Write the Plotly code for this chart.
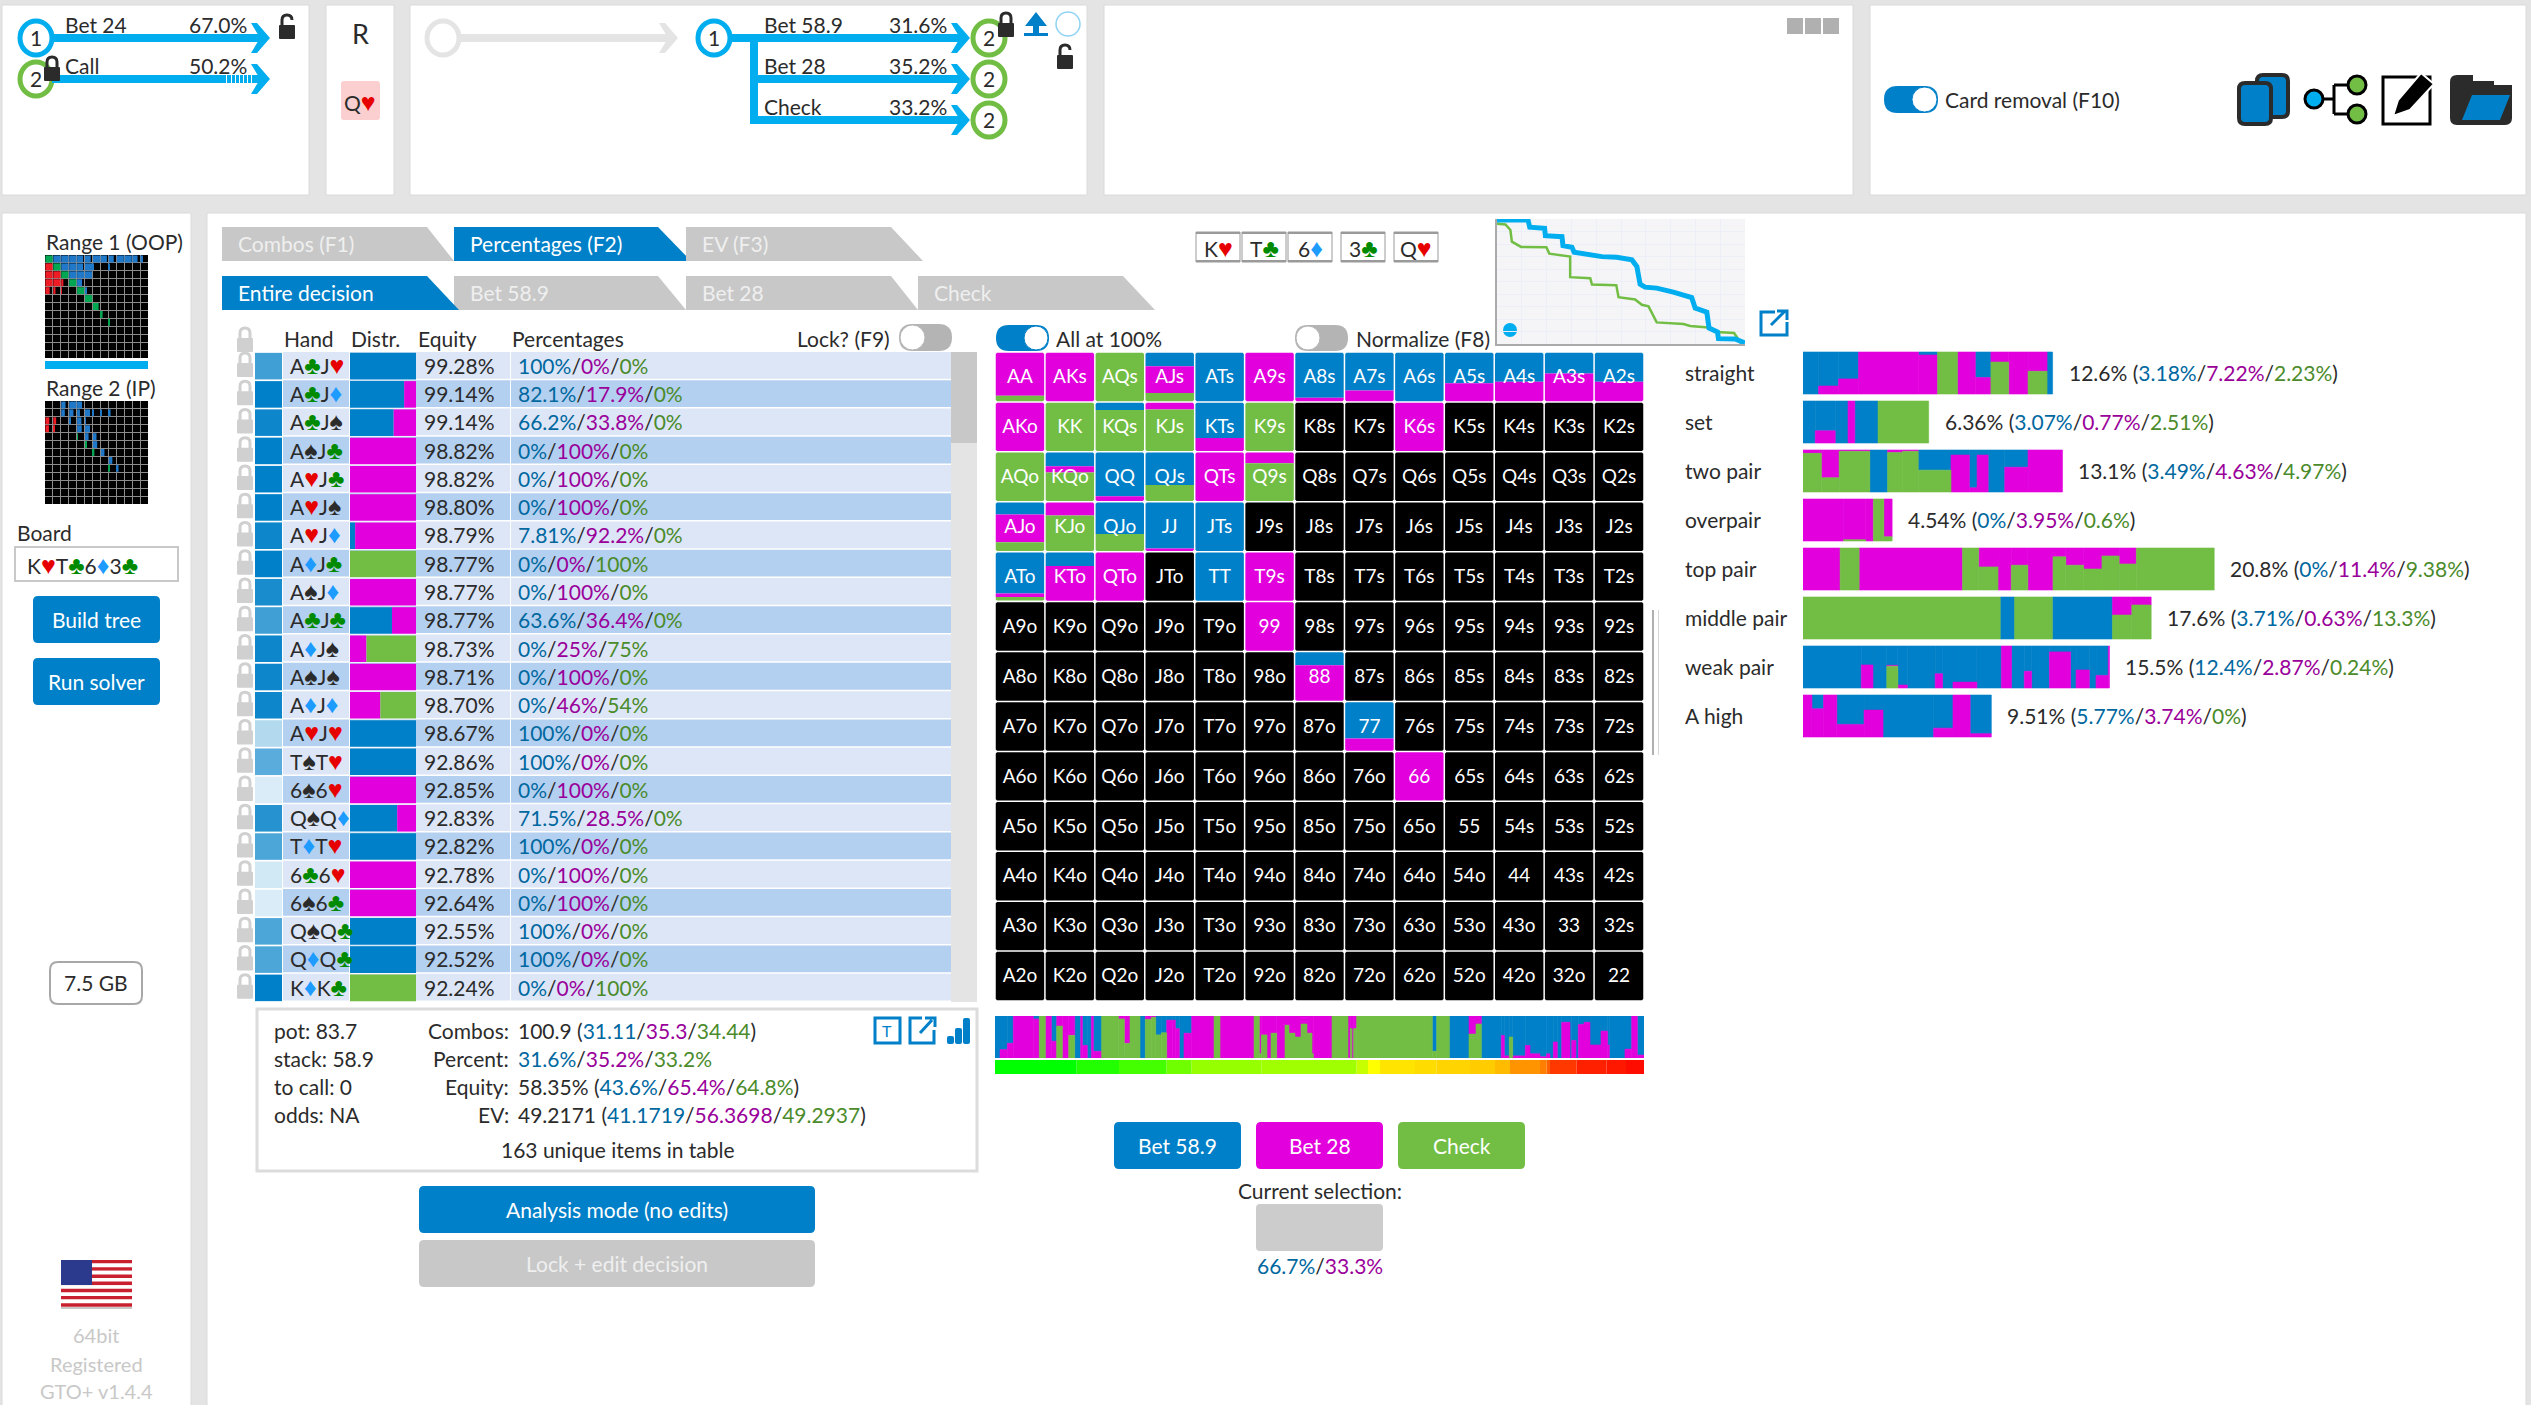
import plotly.graph_objects as go

W = 2531
H = 1405
FONT = "Lato"
FS = 21
DARK = "#2b2b2b"
BLUE = "#0080C8"
MAGENTA = "#E200DD"
GREEN = "#72BE44"
SKY = "#00AEEF"
TXT_B = "#00689F"
TXT_M = "#990099"
TXT_G = "#4B8B2B"
SUITS = {"♣": "#008A00", "♦": "#1E9BFF", "♥": "#E60000", "♠": "#2b2b2b"}

# hand table
hands = ["A♣J♥", "A♣J♦", "A♣J♠", "A♠J♣", "A♥J♣", "A♥J♠", "A♥J♦", "A♦J♣", "A♠J♦", "A♣J♣", "A♦J♠", "A♠J♠",
         "A♦J♦", "A♥J♥", "T♠T♥", "6♠6♥", "Q♠Q♦", "T♦T♥", "6♣6♥", "6♠6♣", "Q♠Q♣", "Q♦Q♣", "K♦K♣"]
equity = [99.28, 99.14, 99.14, 98.82, 98.82, 98.80, 98.79, 98.77, 98.77, 98.77, 98.73, 98.71,
          98.70, 98.67, 92.86, 92.85, 92.83, 92.82, 92.78, 92.64, 92.55, 92.52, 92.24]
pct_bet589 = [100, 82.1, 66.2, 0, 0, 0, 7.81, 0, 0, 63.6, 0, 0, 0, 100, 100, 0, 71.5, 100, 0, 0, 100, 100, 0]
pct_bet28 = [0, 17.9, 33.8, 100, 100, 100, 92.2, 0, 100, 36.4, 25, 100, 46, 0, 0, 100, 28.5, 0, 100, 100, 0, 0, 0]
pct_check = [0, 0, 0, 0, 0, 0, 0, 100, 0, 0, 75, 0, 54, 0, 0, 0, 0, 0, 0, 0, 0, 0, 100]
hand_weight = [.75, 1, .95, 1, 1, 1, .95, 1, .9, .75, .95, .95, .95, .3, .65, .15, .85, .7, .18, .15, .7, .7, 1]

# 13x13 strategy grid, rows from the top
RANKS = "AKQJT98765432"
EMPTY = [0] * 13
grid_blue = [[0, 0, 0, .28, 1, 0, .93, .78, 1, .63, .6, .43, .6],
             [0, 0, .15, 0, .73, 0, 0, 0, 0, 0, 0, 0, 0],
             [0, .28, .9, .67, 0, 0, 0, 0, 0, 0, 0, 0, 0],
             [.25, 0, .65, .95, 1, 0, 0, 0, 0, 0, 0, 0, 0],
             [.85, .28, 0, 0, 1, 0, 0, 0, 0, 0, 0, 0, 0],
             EMPTY,
             [0, 0, 0, 0, 0, 0, .27, 0, 0, 0, 0, 0, 0],
             [0, 0, 0, 0, 0, 0, 0, .75, 0, 0, 0, 0, 0],
             EMPTY, EMPTY, EMPTY, EMPTY, EMPTY]
grid_magenta = [[.89, 1, 0, .55, 0, 1, .07, .22, 0, .37, .4, .57, .4],
                [1, 0, 0, .14, .27, 0, 0, 0, 1, 0, 0, 0, 0],
                [0, .13, .1, 0, 1, .22, 0, 0, 0, 0, 0, 0, 0],
                [.57, .27, 0, .05, 0, 0, 0, 0, 0, 0, 0, 0, 0],
                [.07, .72, 1, 0, 0, 1, 0, 0, 0, 0, 0, 0, 0],
                [0, 0, 0, 0, 0, 1, 0, 0, 0, 0, 0, 0, 0],
                [0, 0, 0, 0, 0, 0, .73, 0, 0, 0, 0, 0, 0],
                [0, 0, 0, 0, 0, 0, 0, .25, 0, 0, 0, 0, 0],
                [0, 0, 0, 0, 0, 0, 0, 0, 1, 0, 0, 0, 0],
                EMPTY, EMPTY, EMPTY, EMPTY]
grid_green = [[.11, 0, 1, .17, 0, 0, 0, 0, 0, 0, 0, 0, 0],
              [0, 1, .85, .86, 0, 1, 0, 0, 0, 0, 0, 0, 0],
              [1, .59, 0, .33, 0, .78, 0, 0, 0, 0, 0, 0, 0],
              [.18, .73, .35, 0, 0, 0, 0, 0, 0, 0, 0, 0, 0],
              [.07, 0, 0, 0, 0, 0, 0, 0, 0, 0, 0, 0, 0],
              EMPTY, EMPTY, EMPTY, EMPTY, EMPTY, EMPTY, EMPTY, EMPTY]

# hand categories: (width in %, blue, magenta, green)
cat_names = ["straight", "set", "two pair", "overpair", "top pair", "middle pair", "weak pair", "A high"]
cat_total = ["12.6%", "6.36%", "13.1%", "4.54%", "20.8%", "17.6%", "15.5%", "9.51%"]
cat_blue = ["3.18%", "3.07%", "3.49%", "0%", "0%", "3.71%", "12.4%", "5.77%"]
cat_magenta = ["7.22%", "0.77%", "4.63%", "3.95%", "11.4%", "0.63%", "2.87%", "3.74%"]
cat_green = ["2.23%", "2.51%", "4.97%", "0.6%", "9.38%", "13.3%", "0.24%", "0%"]
straight = [(.79, 1, 0, 0), (1.01, .81, .19, 0), (1.01, .64, .36, 0), (3.04, 0, 1, 0), (.96, .07, .93, 0),
            (1.01, 0, 0, 1), (.90, 0, 1, 0), (.79, .61, .39, 0), (.90, 0, .24, .76), (.98, 0, 1, 0),
            (.96, 0, .46, .54), (.28, 1, 0, 0)]
set_ = [(.62, 1, 0, 0), (1.01, .71, .29, 0), (.65, 1, 0, 0), (.34, 0, 1, 0), (1.18, 1, 0, 0), (2.56, 0, 0, 1)]
two_pair = [(.93, 0, .08, .92), (.90, 0, .66, .34), (1.55, 0, .03, .97), (.90, 1, 0, 0), (.76, 0, .06, .94),
            (.79, 0, .03, .97), (1.66, .48, 0, .52), (.93, .12, .88, 0), (.39, .9, .1, 0), (.56, .12, .88, 0),
            (.84, 1, 0, 0), (1.18, .41, .59, 0), (1.74, 0, 1, 0)]
overpair = [(2.05, 0, 1, 0), (1.12, 0, .97, .03), (.39, 0, 1, 0), (.53, 0, 0, 1), (.42, 0, .9, .1)]
top_pair = [(1.88, 0, 1, 0), (.96, 0, 0, 1), (5.23, 0, 1, 0), (.82, 0, 0, 1), (.98, 0, .45, .55), (.67, 0, 1, 0),
            (.84, 0, .41, .59), (1.27, 0, 1, 0), (.65, 0, .21, .79), (.90, 0, .41, .59), (.93, 0, .5, .5),
            (.87, 0, .19, .81), (.87, 0, .38, .62), (3.94, 0, 0, 1)]
middle_pair = [(9.98, 0, 0, 1), (.73, 1, 0, 0), (1.91, 0, 0, 1), (3.04, 1, 0, 0), (.98, 0, .43, .57), (.98, 0, .19, .81)]
weak_pair = [(2.95, 1, 0, 0), (.59, .45, .55, 0), (.70, 1, 0, 0), (.56, .46, .02, .52), (.48, .93, .07, 0),
             (1.41, 1, 0, 0), (.37, .66, .34, 0), (.53, 1, 0, 0), (1.21, .86, .14, 0), (1.24, 1, 0, 0),
             (.51, 0, 1, 0), (.65, 1, 0, 0), (.37, .6, .4, 0), (.90, 1, 0, 0), (1.07, .14, .86, 0),
             (.28, 1, 0, 0), (.67, .57, .43, 0), (.34, 1, 0, 0), (.62, .7, .3, 0), (.06, 0, 1, 0)]
a_high = [(.45, 0, 1, 0), (.59, .33, .67, 0), (.67, 0, 1, 0), (1.38, .7, .3, 0), (.96, .36, .64, 0),
          (2.56, 1, 0, 0), (.98, .79, .21, 0), (.87, 0, 1, 0), (1.07, .92, .08, 0)]
cat_segments = [straight, set_, two_pair, overpair, top_pair, middle_pair, weak_pair, a_high]

# strategy strip under the grid: (width, blue, magenta, green)
strip_segments = [
    (15, 1, 0, 0), (22, .8, .2, 0), (18, .65, .35, 0), (60, 0, 1, 0), (18, .07, .93, 0), (18, 0, 0, 1),
    (18, 0, 1, 0), (16, .6, .4, 0), (17, 0, .24, .76), (19, 0, 1, 0), (18, 0, .46, .54), (18, 1, 0, 0),
    (5, 0, 1, 0), (15, .7, .3, 0), (12, 1, 0, 0), (6, 0, 1, 0), (25, .84, .16, 0), (50, 0, 0, 1),
    (18, 0, .07, .93), (17, 0, .65, .35), (30, 0, 0, 1), (16, 1, 0, 0), (18, 0, .08, .92), (13, 0, .03, .97),
    (17, .45, 0, .55), (16, .4, 0, .6), (18, .1, .9, 0), (8, .1, .9, 0), (12, .3, .7, 0), (14, 1, 0, 0),
    (23, .41, .59, 0), (67, 0, 1, 0), (18, 0, 0, 1), (102, 0, 1, 0), (16, 0, 0, 1), (6, 0, .9, .1),
    (17, 0, .45, .55), (12, 0, 1, 0), (17, 0, .41, .59), (25, 0, 1, 0), (12, 0, .22, .78), (18, 0, .41, .59),
    (18, 0, .5, .5), (18, 0, .19, .81), (15, 0, .41, .59), (4, 0, .9, .1), (56, 0, 1, 0), (48, 0, 0, 1),
    (7, 0, 1, 0), (5, 0, .3, .7), (5, 0, 1, 0), (9, 0, .3, .7), (227, 0, 0, 1), (13, .84, 0, .16),
    (38, 0, 0, 1), (59, 1, 0, 0), (21, 0, .43, .57), (16, 0, .19, .81), (60, 1, 0, 0), (9, .46, .54, 0),
    (15, .95, .05, 0), (10, .5, 0, .5), (38, .95, .05, 0), (14, .7, .3, 0), (30, .9, .1, 0), (20, .97, .03, 0),
    (10, .9, .1, 0), (10, 1, 0, 0), (12, .62, .38, 0), (13, 1, 0, 0), (25, .15, .85, 0), (5, 1, 0, 0),
    (13, .58, .42, 0), (7, 1, 0, 0), (17, .2, .8, 0), (18, .15, .85, 0), (33, .69, .31, 0), (20, .36, .64, 0),
    (5, .69, .31, 0), (47, 1, 0, 0), (20, .79, .21, 0), (17, 0, 1, 0), (20, .93, .07, 0)]
heat_widths = [245, 127, 143, 75, 210, 285, 34, 36, 105, 65, 100, 75, 45, 90, 20, 10, 80, 90, 58, 54]
heat_colors = ["#00FF00", "#22FF00", "#44FF00", "#70FF00", "#96FF00", "#A0FF00", "#C8FF00", "#FFFF00", "#FFE400",
               "#FFDC00", "#FFD400", "#FFCC00", "#FFBB00", "#FF9400", "#FF8000", "#FF6000", "#FF3800", "#FF2000",
               "#FF1800", "#FF0C00"]

# equity curves
oop_x = [0, 12.5, 13.2, 19.2, 19.5, 26.2, 26.6, 30.2, 31.1, 35.6, 42.3, 48.3, 54.4, 56.4, 57.7, 59.7, 64.4, 71.1,
         78.5, 79.9, 84.6, 85.5, 88.9, 89.3, 96, 100]
oop_y = [99.2, 99.2, 93.4, 92.6, 86.7, 85.9, 78.7, 77.4, 73.4, 71.8, 69.9, 69.4, 67.3, 62, 47.9, 45.5, 44.7, 41.5,
         37.2, 28.7, 25.5, 12.8, 9.6, 4.3, 4, .8]
ip_x = [0, 3.4, 5.4, 6, 9.7, 19.9, 21.1, 29.5, 29.5, 37.6, 38.3, 48.1, 49, 55.7, 58.4, 61.1, 64.4, 75.2, 77.9, 85.2,
        88.6, 95.6, 98.3]
ip_y = [96.3, 95.7, 91.2, 81.9, 77.7, 77.4, 72.3, 69.9, 53.5, 52.7, 47.6, 47.1, 37.5, 35.6, 31.4, 30.1, 17.3, 16,
        14.4, 13.3, 9.6, 8.8, .8]

# mini range thumbnails
ZERO = [0] * 13
range1 = [[1, 1, 1, 1, .85, .8, 1, .85, .7, 1, 1, .7, .35],
          [1, 1, 1, 1, .85, 1, .15, 0, .1, 0, 0, 0, 0],
          [1, 1, 1, 1, 1, 1, 0, 0, 0, 0, 0, 0, 0],
          [1, 1, .3, 1, .7, 0, 0, 0, 0, 0, 0, 0, 0],
          [.6, .3, .1, 0, 1, .2, 0, 0, 0, 0, 0, 0, 0],
          [0, 0, 0, 0, 0, 1, 0, 0, 0, 0, 0, 0, 0],
          [0, 0, 0, 0, 0, 0, .8, 0, 0, 0, 0, 0, 0],
          [0, 0, 0, 0, 0, 0, 0, .25, 0, 0, 0, 0, 0],
          [0, 0, 0, 0, 0, 0, 0, 0, .1, 0, 0, 0, 0],
          ZERO, ZERO, ZERO, ZERO]
range2 = [[0, 0, .6, 1, .7, 0, 0, 0, 0, 0, 0, 0, 0],
          [0, 0, .5, .6, .4, .7, .1, .15, .25, 0, 0, 0, 0],
          [.55, .4, 0, .2, .6, .1, 0, 0, 0, 0, 0, 0, 0],
          [.5, .1, 0, 0, .65, .7, 0, 0, 0, 0, 0, 0, 0],
          [0, 0, 0, 0, .1, .5, .5, 0, 0, 0, 0, 0, 0],
          [0, 0, 0, 0, 0, .2, .6, 0, 0, 0, 0, 0, 0],
          [0, 0, 0, 0, 0, 0, .2, .5, 0, 0, 0, 0, 0],
          [0, 0, 0, 0, 0, 0, 0, 0, .5, 0, 0, 0, 0],
          [0, 0, 0, 0, 0, 0, 0, 0, .1, .25, 0, 0, 0],
          ZERO, ZERO, ZERO, ZERO]

ACTION_COLORS = [BLUE, MAGENTA, GREEN]
shapes = []
annots = []


def domx(x0, x1):
    return [x0 / W, x1 / W]


def domy(y0, y1):
    return [1 - y1 / H, 1 - y0 / H]


def rect(x0, y0, x1, y1, fill, line=None, lw=0):
    shapes.append(dict(type="rect", xref="x", yref="y", x0=x0, y0=y0, x1=x1, y1=y1, fillcolor=fill, layer="below",
                       line=dict(color=line or fill, width=lw)))


def path(d, fill="rgba(0,0,0,0)", line=None, lw=0):
    shapes.append(dict(type="path", xref="x", yref="y", path=d, fillcolor=fill, layer="below",
                       line=dict(color=line or "rgba(0,0,0,0)", width=lw)))


def rrect_path(x0, y0, x1, y1, r):
    return (f"M{x0 + r},{y0} L{x1 - r},{y0} Q{x1},{y0} {x1},{y0 + r} L{x1},{y1 - r} Q{x1},{y1} {x1 - r},{y1} "
            f"L{x0 + r},{y1} Q{x0},{y1} {x0},{y1 - r} L{x0},{y0 + r} Q{x0},{y0} {x0 + r},{y0} Z")


def rrect(x0, y0, x1, y1, r, fill, line=None, lw=0):
    path(rrect_path(x0, y0, x1, y1, r), fill, line, lw)


def circle(cx, cy, rx, ry, fill, line=None, lw=0):
    shapes.append(dict(type="circle", xref="x", yref="y", x0=cx - rx, y0=cy - ry, x1=cx + rx, y1=cy + ry,
                       fillcolor=fill, layer="below", line=dict(color=line or fill, width=lw)))


def label(x, y, text, size=FS, color=DARK, anchor="left", xref="x", yref="y", xshift=0):
    annots.append(dict(x=x, y=y, xref=xref, yref=yref, text=text, showarrow=False, xanchor=anchor, yanchor="middle",
                       xshift=xshift, yshift=.5, borderpad=0, font=dict(family=FONT, size=size, color=color)))


def colored(s, c):
    return f'<span style="color:{c}">{s}</span>'


def suited(cards):
    out = ""
    for ch in cards:
        if ch in SUITS:
            out += f'<span style="color:{SUITS[ch]};font-size:25px">{ch}</span>'
        else:
            out += ch
    return out


def triple(a, b, c):
    return colored(a, TXT_B) + "/" + colored(b, TXT_M) + "/" + colored(c, TXT_G)


def arrow(x0, x1, y, color=SKY):
    rect(x0, y - 4, x1 - 10, y + 4, color)
    path(f"M{x1 - 19},{y - 15} L{x1 - 13},{y - 15} L{x1},{y} L{x1 - 13},{y + 15} L{x1 - 19},{y + 15} L{x1 - 10},{y} Z", color)


def node(cx, cy, color, txt=None):
    circle(cx, cy, 16, 17, "white", color, 5)
    if txt:
        label(cx, cy, txt, 21, anchor="center")


def lock(cx, cy, color="#2b2b2b", opened=False, s=1.0):
    w, h = 8 * s, 7 * s
    path(rrect_path(cx - w, cy - 1, cx + w, cy + 2 * h - 1, 1), color)
    top = cy - 11 * s
    if opened:
        d = f"M{cx - 5 * s},{cy} L{cx - 5 * s},{top + 5 * s} Q{cx - 5 * s},{top} {cx},{top} Q{cx + 5 * s},{top} {cx + 5 * s},{top + 5 * s}"
    else:
        d = f"M{cx - 5 * s},{cy} L{cx - 5 * s},{top + 5 * s} Q{cx - 5 * s},{top} {cx},{top} Q{cx + 5 * s},{top} {cx + 5 * s},{top + 5 * s} L{cx + 5 * s},{cy}"
    path(d, "rgba(0,0,0,0)", color, 3 * s)


def toggle(x0, x1, y0, y1, on):
    r = (y1 - y0) / 2
    rrect(x0, y0, x1, y1, r, BLUE if on else "#B4B4B4")
    cx = x1 - r if on else x0 + r
    circle(cx, y0 + r, r - 1, r - 1, "white", BLUE if on else "#B4B4B4", 1)


def tab(x0, xt, xb, y0, y1, text, active):
    c = BLUE if active else "#C8C8C8"
    path(f"M{x0},{y0} L{xt},{y0} L{xb},{y1} L{x0},{y1} Z", c)
    label(x0 + 15, (y0 + y1) / 2, text, FS, "white" if active else "#EFEFEF")


def button(x0, y0, x1, y1, text, fill, color="white"):
    rrect(x0, y0, x1, y1, 5, fill)
    label((x0 + x1) / 2, (y0 + y1) / 2, text, FS, color, "center")


def stripes(fig, segs, top, height, xa, ya):
    left = 0
    xs, ws = [], []
    for seg in segs:
        xs.append(left + seg[0] / 2)
        ws.append(seg[0])
        left += seg[0]
    for k, color in enumerate(ACTION_COLORS):
        keep = [j for j, seg in enumerate(segs) if seg[k + 1] > 0]
        base = [top + height * sum(segs[j][1:k + 1]) for j in keep]
        ys = [height * segs[j][k + 1] for j in keep]
        fig.add_bar(x=[xs[j] for j in keep], y=ys, base=base, width=[ws[j] for j in keep], marker_color=color,
                    marker_line=dict(color=color, width=.6), xaxis=xa, yaxis=ya, hoverinfo="skip", showlegend=False)


fig = go.Figure()
fig.add_scatter(x=[0], y=[0], mode="markers", opacity=0, xaxis="x", yaxis="y", hoverinfo="skip", showlegend=False)

# ---- panels
for x0, y0, x1, y1 in [(2, 5, 309, 195), (326, 5, 394, 195), (410, 5, 1087, 195), (1104, 5, 1853, 195),
                       (1870, 5, 2526, 195), (2, 213, 191, 1410), (207, 213, 2526, 1410)]:
    rect(x0, y0, x1, y1, "white", "#DADADA", 1)

# ---- tree, first street
node(36, 38, SKY, "1")
node(36, 79, GREEN, "2")
arrow(52, 270, 38)
arrow(52, 270, 79)
for dash in [226, 231, 235, 239, 243, 247, 251]:
    rect(dash, 75, dash + 1, 83, "white")
label(64, 25, "Bet 24")
label(248, 25, "67.0%", anchor="right")
label(64, 66, "Call")
label(248, 66, "50.2%", anchor="right")
lock(287, 26, opened=True)
lock(52, 68)

label(360, 34, "R", 27, anchor="center")
rrect(341, 81, 380, 120, 3, "#FBCFCF")
label(360, 101, suited("Q♥"), FS, anchor="center")

# ---- tree, current street
circle(443, 38, 16, 17, "white", "#E4E4E4", 5)
arrow(460, 678, 38, "#E4E4E4")
node(714, 38, SKY, "1")
rect(750, 38, 758, 120, SKY)
arrow(730, 970, 38)
arrow(750, 970, 79)
arrow(750, 970, 120)
for yy, a, p in [(25, "Bet 58.9", "31.6%"), (66, "Bet 28", "35.2%"), (107, "Check", "33.2%")]:
    label(763, yy, a)
    label(948, yy, p, anchor="right")
for yy in [38, 79, 120]:
    node(989, yy, GREEN, "2")
lock(1006, 24)
path("M1036,12 L1047,26 L1039,26 L1039,33 L1033,33 L1033,26 L1025,26 Z", BLUE)
rect(1024, 33, 1048, 36, BLUE)
circle(1068, 24, 12, 12, "white", "#8FD3F4", 1.5)
lock(1065, 56, opened=True)

for xx in [1787, 1805, 1823]:
    rect(xx, 18, xx + 16, 34, "#B0B0B0")

# ---- card removal + tool icons
toggle(1884, 1938, 86, 113, True)
label(1944, 100, "Card removal (F10)")
rrect(2257, 75, 2288, 117, 6, BLUE, "#2b2b2b", 4)
rrect(2239, 83, 2271, 124, 6, BLUE, "#2b2b2b", 4)
path("M2323,99 L2334,99 M2334,85 L2334,114 M2334,85 L2350,85 M2334,114 L2350,114", line="black", lw=3)
circle(2314, 99, 9, 9, SKY, "black", 3)
circle(2357, 85, 9, 9, GREEN, "black", 3)
circle(2357, 114, 9, 9, GREEN, "black", 3)
rect(2383, 77, 2430, 124, "white", "black", 3)
path("M2393,116 L2398,100 L2421,73 L2434,84 L2410,110 Z", "black", "white", 2)
path(rrect_path(2450, 75, 2512, 125, 7), "#2b2b2b")
path("M2462,120 L2472,95 L2510,95 L2500,120 Z", BLUE)
rect(2494, 75, 2515, 85, "white")
rect(2473, 75, 2494, 81, "white")

# ---- left panel
label(45, 242, "Range 1 (OOP)", FS, anchor="left")
rect(45, 255, 148, 358, "black")
rect(45, 361, 148, 369, SKY)
label(45, 388, "Range 2 (IP)", FS)
rect(45, 401, 148, 504, "black")
label(16, 533, "Board", FS)
rect(15, 547, 178, 581, "white", "#C8C8C8", 2)
label(26, 564, suited("K♥T♣6♦3♣"), FS)
button(33, 596, 160, 643, "Build tree", BLUE)
button(33, 658, 160, 705, "Run solver", BLUE)
rrect(50, 962, 142, 1004, 8, "white", "#A8A8A8", 2)
label(96, 983, "7.5 GB", FS, anchor="center")
for s in range(13):
    rect(61, 1260 + s * 3.6, 132, 1260 + (s + 1) * 3.6, "#C8202F" if s % 2 == 0 else "white")
rect(61, 1260, 92, 1285, "#2B3A8C")
rect(61, 1307, 132, 1309, "#C8C8C8")
for yy, txt in [(1335, "64bit"), (1364, "Registered"), (1391, "GTO+ v1.4.4")]:
    label(96, yy, txt, 20, "#C8C8C8", "center")

# ---- tabs
tab(222, 427, 454, 227, 261, "Combos (F1)", False)
tab(454, 658, 691, 227, 261, "Percentages (F2)", True)
tab(686, 891, 923, 227, 261, "EV (F3)", False)
tab(454, 658, 686, 276, 310, "Bet 58.9", False)
tab(686, 891, 918, 276, 310, "Bet 28", False)
tab(918, 1123, 1155, 276, 310, "Check", False)
tab(222, 427, 459, 276, 310, "Entire decision", True)

# ---- board cards
for x0, card in [(1196, "K♥"), (1242, "T♣"), (1288, "6♦"), (1341, "3♣"), (1394, "Q♥")]:
    rect(x0, 232, x0 + 44, 262, "white", "#9A9A9A", 1)
    rect(x0, 232, x0 + 44, 234, "#9A9A9A")
    rect(x0, 260, x0 + 44, 262, "#9A9A9A")
    label(x0 + 22, 247, suited(card), FS, anchor="center")

# ---- equity chart chrome
rect(1497, 219, 1745, 344, "#F5F5F8")
circle(1510, 330, 7, 7, SKY)
path("M1775,312 L1761,312 L1761,335 L1787,335 L1787,322", line=BLUE, lw=3)
path("M1771,325 L1785,311 M1777,311 L1787,311 L1787,320", line=BLUE, lw=3)

# ---- table chrome
label(283, 339, "Hand", FS)
label(350, 339, "Distr.", FS)
label(417, 339, "Equity", FS)
label(511, 339, "Percentages", FS)
label(796, 339, "Lock? (F9)", FS)
toggle(899, 952, 324, 351, False)
lock(245, 339, "#D0D0D0")
ROW_H = 650 / 23
for i in range(len(hands)):
    top = 352 + i * ROW_H
    rect(283, top, 951, top + ROW_H - 1.5, "#DCE6F7" if i % 2 == 0 else "#B4D0F0")
    rect(349, top, 350, top + ROW_H, "white")
    rect(510, top, 511, top + ROW_H, "white")
    lock(245, top + 12, "#D0D0D0")
rect(951, 352, 977, 1002, "#E4E4E4")
rect(951, 352, 977, 443, "#C8C8C8")

# ---- info box
rect(257, 1009, 977, 1171, "white", "#DCDCDC", 3)
for yy, txt in [(1031, "pot: 83.7"), (1059, "stack: 58.9"), (1087, "to call: 0"), (1115, "odds: NA")]:
    label(273, yy, txt)
label(510, 1031, "Combos:", anchor="right")
label(517, 1031, "100.9 (" + triple("31.11", "35.3", "34.44") + ")")
label(510, 1059, "Percent:", anchor="right")
label(517, 1059, triple("31.6%", "35.2%", "33.2%"))
label(510, 1087, "Equity:", anchor="right")
label(517, 1087, "58.35% (" + triple("43.6%", "65.4%", "64.8%") + ")")
label(510, 1115, "EV:", anchor="right")
label(517, 1115, "49.2171 (" + triple("41.1719", "56.3698", "49.2937") + ")")
label(618, 1150, "163 unique items in table", anchor="center")
rect(875, 1018, 900, 1043, "white", BLUE, 3)
label(887, 1031, "T", 16, BLUE, "center")
path("M922,1018 L910,1018 L910,1043 L934,1043 L934,1030", line=BLUE, lw=3)
path("M920,1033 L932,1020 M925,1018 L935,1018 L935,1027", line=BLUE, lw=3)
for xx, yt in [(947, 1036), (955, 1028), (963, 1018)]:
    rrect(xx, yt, xx + 7, 1044, 2, BLUE)
button(419, 1186, 815, 1233, "Analysis mode (no edits)", BLUE)
button(419, 1240, 815, 1287, "Lock + edit decision", "#C8C8C8", "#EFEFEF")

# ---- grid toggles and action buttons
toggle(996, 1049, 325, 351, True)
label(1055, 339, "All at 100%")
toggle(1295, 1348, 325, 351, False)
label(1355, 339, "Normalize (F8)")
rect(1652, 610, 1654, 755, "#B0B0B0")
rect(1658, 610, 1659, 755, "#D8D8D8")
button(1114, 1122, 1241, 1169, "Bet 58.9", BLUE)
button(1256, 1122, 1383, 1169, "Bet 28", MAGENTA)
button(1398, 1122, 1525, 1169, "Check", GREEN)
label(1320, 1191, "Current selection:", anchor="center")
rrect(1256, 1204, 1383, 1251, 4, "#CCCCCC")
label(1320, 1266, colored("66.7%", TXT_B) + "/" + colored("33.3%", TXT_M), anchor="center")

# ---- table marks
rows = list(range(len(hands)))
text_y = [r + .09 for r in rows]
for k, series in enumerate([pct_bet589, pct_bet28, pct_check]):
    base = [sum(v[i] for v in [pct_bet589, pct_bet28, pct_check][:k]) for i in rows]
    fig.add_bar(y=rows, x=series, base=base, orientation="h", width=.94, marker_color=ACTION_COLORS[k],
                marker_line_width=0, xaxis="x2", yaxis="y2", hoverinfo="skip", showlegend=False)
fig.add_bar(y=rows, x=[1] * len(rows), orientation="h", width=.94, xaxis="x3", yaxis="y3", hoverinfo="skip",
            marker=dict(color=BLUE, opacity=hand_weight, line_width=0), showlegend=False)
fig.add_scatter(x=[290] * len(rows), y=text_y, mode="text", text=[suited(h) for h in hands], textposition="middle right",
                textfont=dict(family=FONT, size=FS, color=DARK), xaxis="x4", yaxis="y4", hoverinfo="skip", showlegend=False)
fig.add_scatter(x=[424] * len(rows), y=text_y, mode="text", text=[f"{v:.2f}%" for v in equity], textposition="middle right",
                textfont=dict(family=FONT, size=FS, color=DARK), xaxis="x4", yaxis="y4", hoverinfo="skip", showlegend=False)
pct_text = [triple(f"{a:g}%", f"{b:g}%", f"{c:g}%") for a, b, c in zip(pct_bet589, pct_bet28, pct_check)]
fig.add_scatter(x=[518] * len(rows), y=text_y, mode="text", text=pct_text, textposition="middle right",
                textfont=dict(family=FONT, size=FS, color=DARK), xaxis="x4", yaxis="y4", hoverinfo="skip", showlegend=False)

# ---- strategy grid marks
GAP = .03
cx, cy, names, black_x, black_y = [], [], [], [], []
for r in range(13):
    for c in range(13):
        cx.append(c + .5)
        cy.append(r + .53)
        if r == c:
            names.append(RANKS[r] * 2)
        elif c > r:
            names.append(RANKS[r] + RANKS[c] + "s")
        else:
            names.append(RANKS[c] + RANKS[r] + "o")
        if grid_blue[r][c] + grid_magenta[r][c] + grid_green[r][c] == 0:
            black_x.append(c + .5)
            black_y.append(r + GAP / 2)
fig.add_bar(x=black_x, y=[1 - GAP] * len(black_x), base=black_y, width=1 - GAP, marker_color="black",
            marker_line_width=0, xaxis="x5", yaxis="y5", hoverinfo="skip", showlegend=False)
for k, grid in enumerate([grid_blue, grid_magenta, grid_green]):
    xs, ys, bases = [], [], []
    for r in range(13):
        for c in range(13):
            if grid[r][c] > 0:
                before = sum(g[r][c] for g in [grid_blue, grid_magenta, grid_green][:k])
                xs.append(c + .5)
                ys.append(grid[r][c] * (1 - GAP))
                bases.append(r + GAP / 2 + before * (1 - GAP))
    fig.add_bar(x=xs, y=ys, base=bases, width=1 - GAP, marker_color=ACTION_COLORS[k], marker_line_width=0,
                xaxis="x5", yaxis="y5", hoverinfo="skip", showlegend=False)
corner = [i for i in range(14)]
fig.add_scatter(x=[a for a in corner for b in corner], y=[b for a in corner for b in corner], mode="markers",
                marker=dict(color="white", size=4), xaxis="x5", yaxis="y5", hoverinfo="skip", showlegend=False)
fig.add_scatter(x=cx, y=cy, mode="text", text=names, textposition="middle center",
                textfont=dict(family=FONT, size=19, color="white"), xaxis="x5", yaxis="y5", hoverinfo="skip",
                showlegend=False)

# ---- hand categories
CAT_H = 42 / 49
for i, segs in enumerate(cat_segments):
    stripes(fig, segs, i - CAT_H / 2, CAT_H, "x6", "y6")
    label(1684, i, cat_names[i], FS, xref="x", yref="y6")
    text = cat_total[i] + " (" + triple(cat_blue[i], cat_magenta[i], cat_green[i]) + ")"
    label(sum(s[0] for s in segs), i, text, FS, xref="x6", yref="y6", xshift=15)

# ---- strip and heat bar
stripes(fig, strip_segments, 0, 1, "x7", "y7")
heat_x = [sum(heat_widths[:i]) + w / 2 for i, w in enumerate(heat_widths)]
fig.add_bar(x=heat_x, y=[1] * len(heat_x), width=heat_widths, marker_color=heat_colors, marker_line_width=0,
            xaxis="x8", yaxis="y8", hoverinfo="skip", showlegend=False)


# ---- mini ranges
def mini(matrix, xa, ya):
    xs, ys, bases, colors = [], [], [], []
    for r in range(13):
        for c in range(13):
            if matrix[r][c] > 0:
                ys.append(r + .5)
                xs.append(matrix[r][c] * .9)
                bases.append(c + .05)
                colors.append("#00A651" if r == c else ("#1F78C8" if c > r else "#EE1C25"))
    fig.add_bar(y=ys, x=xs, base=bases, orientation="h", width=.88, marker_color=colors, marker_line_width=0,
                xaxis=xa, yaxis=ya, hoverinfo="skip", showlegend=False)


mini(range1, "x9", "y9")
mini(range2, "x10", "y10")

# ---- equity curves
fig.add_scatter(x=ip_x, y=ip_y, mode="lines", line=dict(color=GREEN, width=2.5), xaxis="x11", yaxis="y11",
                hoverinfo="skip", showlegend=False)
fig.add_scatter(x=oop_x, y=oop_y, mode="lines", line=dict(color=SKY, width=5), xaxis="x11", yaxis="y11",
                hoverinfo="skip", showlegend=False)


def hidden(x_dom=None, rng=None, anchor=None):
    return dict(domain=x_dom, range=rng, anchor=anchor, visible=False, fixedrange=True)


def grid_axis(dom, rng, anchor, color):
    return dict(domain=dom, range=rng, anchor=anchor, fixedrange=True, showticklabels=False, ticks="", zeroline=False,
                showgrid=True, dtick=1, gridcolor=color, gridwidth=1, tick0=0)


ROW_RANGE = [22.5, -.5]
CAT_TOP = 373 - 24.5
layout = dict(
    width=W, height=H, margin=dict(l=0, r=0, t=0, b=0), paper_bgcolor="#E4E4E4", plot_bgcolor="rgba(0,0,0,0)",
    barmode="overlay", showlegend=False, font=dict(family=FONT, size=FS, color=DARK),
    xaxis=hidden([0, 1], [0, W], "y"), yaxis=hidden([0, 1], [H, 0], "x"),
    xaxis2=hidden(domx(350, 416), [0, 100], "y2"), yaxis2=hidden(domy(352, 1002), ROW_RANGE, "x2"),
    xaxis3=hidden(domx(255, 282), [0, 1], "y3"), yaxis3=hidden(domy(352, 1002), ROW_RANGE, "x3"),
    xaxis4=hidden(domx(283, 951), [283, 951], "y4"), yaxis4=hidden(domy(352, 1002), ROW_RANGE, "x4"),
    xaxis5=hidden(domx(995, 1644), [0, 13], "y5"), yaxis5=hidden(domy(352, 1001), [13, 0], "x5"),
    xaxis6=hidden(domx(1803, 2526), [0, 723 / 19.76], "y6"),
    yaxis6=hidden(domy(CAT_TOP, CAT_TOP + 392), [7.5, -.5], "x6"),
    xaxis7=hidden(domx(995, 1644), [0, 1947], "y7"), yaxis7=hidden(domy(1016, 1058), [1, 0], "x7"),
    xaxis8=hidden(domx(995, 1644), [0, 1947], "y8"), yaxis8=hidden(domy(1060, 1074), [0, 1], "x8"),
    xaxis9=grid_axis(domx(45, 148), [0, 13], "y9", "#8C8C8C"), yaxis9=grid_axis(domy(255, 358), [13, 0], "x9", "#8C8C8C"),
    xaxis10=grid_axis(domx(45, 148), [0, 13], "y10", "#8C8C8C"),
    yaxis10=grid_axis(domy(401, 504), [13, 0], "x10", "#8C8C8C"),
    xaxis11=dict(domain=domx(1497, 1745), range=[0, 100], anchor="y11", fixedrange=True, showticklabels=False, ticks="",
                 zeroline=False, dtick=10, gridcolor="#ECEEF8", showline=True, linecolor="#AAAAAA", linewidth=1.5),
    yaxis11=dict(domain=domy(219, 344), range=[0, 100], anchor="x11", fixedrange=True, showticklabels=False, ticks="",
                 zeroline=False, dtick=10, gridcolor="#ECEEF8", showline=True, linecolor="#AAAAAA", linewidth=1.5),
    shapes=shapes, annotations=annots,
)
fig.update_layout(**layout)

fig.write_html("out.html", config={"displayModeBar": False},
               post_script="document.body.style.margin='0';document.body.style.overflow='hidden';")
